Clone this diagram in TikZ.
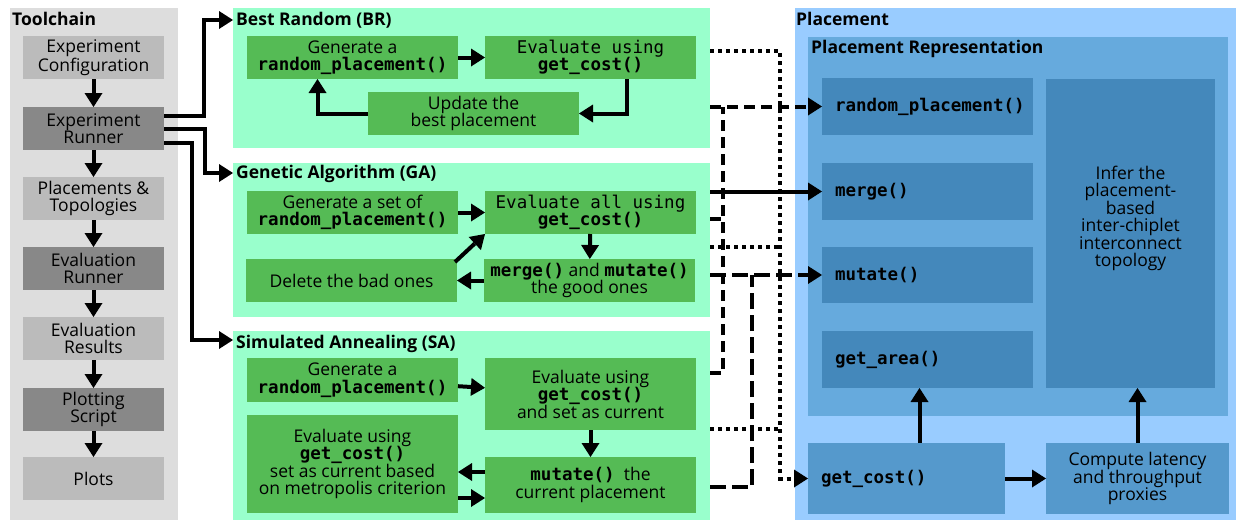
\documentclass[tikz,border=0pt]{standalone}
\usepackage{fontspec}
\setmainfont{Open Sans}
\setmonofont{DejaVu Sans Mono}
\usetikzlibrary{arrows.meta, calc}
\definecolor{toolBg}{HTML}{DDDDDD}
\definecolor{toolLight}{HTML}{BBBBBB}
\definecolor{toolDark}{HTML}{888888}
\definecolor{algBg}{HTML}{99FFCC}
\definecolor{algBox}{HTML}{55BB55}
\definecolor{placeBg}{HTML}{99CCFF}
\definecolor{repBg}{HTML}{66AADD}
\definecolor{repBox}{HTML}{4488BB}
\definecolor{costBox}{HTML}{5599CC}
\newcommand{\flowArrow}{{Triangle[length=14pt, width=18pt, line width=0pt]}}
\newcommand{\codeB}[1]{\texttt{\bfseries #1}}

\begin{document}
\begin{tikzpicture}[x=1pt, y=-1pt, font=\fontsize{17.5}{17.5}\selectfont,
	panel/.style={anchor=north west, inner sep=0pt, outer sep=0pt},
	title/.style={anchor=base west, inner sep=0pt, font=\fontsize{17.5}{17.5}\selectfont\bfseries},
	toolbox/.style={anchor=north west, inner sep=0pt, outer sep=0pt, align=center, minimum width=141pt, minimum height=43pt, fill=toolLight},
	algbox/.style={anchor=north west, inner sep=0pt, outer sep=0pt, align=center, minimum width=211pt, minimum height=43pt, fill=algBox},
	fnbox/.style={anchor=north west, inner xsep=13pt, inner ysep=0pt, outer sep=0pt, text width=185pt, align=left, minimum height=57pt, fill=repBox},
	link/.style={line width=4pt},
	flow/.style={link, -\flowArrow},
	costlink/.style={link, dash pattern=on 4pt off 4pt},
	randlink/.style={link, dash pattern=on 11pt off 6pt},
	mutlink/.style={link, dash pattern=on 16pt off 6pt}]
	\useasboundingbox (0,0) rectangle (1236,522);

	\node[panel, fill=toolBg, minimum width=168pt, minimum height=512pt] (tool) at (10,8) {};
	\node[title] (tooltitle) at (12,25) {Toolchain};
	\node[toolbox] (conf) at (23,36) {Experiment\\Configuration};
	\node[toolbox, fill=toolDark] (runner) at (23,107) {Experiment\\Runner};
	\node[toolbox] (plctop) at (23,177) {Placements \&\\Topologies};
	\node[toolbox, fill=toolDark] (evrun) at (23,247) {Evaluation\\Runner};
	\node[toolbox] (evres) at (23,317) {Evaluation\\Results};
	\node[toolbox, fill=toolDark] (plotscr) at (23,388) {Plotting\\Script};
	\node[toolbox] (plots) at (23,457) {Plots};
	\draw[flow] (conf) -- (runner);
	\draw[flow] (runner) -- (plctop);
	\draw[flow] (plctop) -- (evrun);
	\draw[flow] (evrun) -- (evres);
	\draw[flow] (evres) -- (plotscr);
	\draw[flow] (plotscr) -- (plots);

	\node[panel, fill=algBg, minimum width=477pt, minimum height=140pt] (br) at (233,8) {};
	\node[title] (brtitle) at (236,25) {Best Random (BR)};
	\node[algbox] (brgen) at (247,36) {Generate a\\\codeB{random\_placement()}};
	\node[algbox] (breval) at (485,36) {\ttfamily Evaluate using\\\codeB{get\_cost()}};
	\node[algbox] (brupd) at (368,92) {Update the\\best placement};
	\draw[flow] (brgen) -- (breval);
	\draw[flow] ([xshift=36pt]breval.south) |- (brupd.east);
	\draw[flow] (brupd.west) -| ([xshift=-35pt]brgen.south);

	\node[panel, fill=algBg, minimum width=477pt, minimum height=154pt] (ga) at (233,163) {};
	\node[title] (gatitle) at (236,178) {Genetic Algorithm (GA)};
	\node[algbox] (gagen) at (247,191) {Generate a set of\\\codeB{random\_placement()}};
	\node[algbox] (gaeval) at (485,191) {\ttfamily Evaluate all using\\\codeB{get\_cost()}};
	\node[algbox] (gadel) at (246,259) {Delete the bad ones};
	\node[algbox] (gamm) at (484,259) {\codeB{merge()} and \codeB{mutate()}\\the good ones};
	\draw[flow] (gagen) -- (gaeval);
	\draw[flow] (gaeval) -- (gamm);
	\draw[flow] (gamm) -- (gadel);
	\draw[flow] ([xshift=-2pt, yshift=-3pt]gadel.north east) -- (gaeval.south west);

	\node[panel, fill=algBg, minimum width=477pt, minimum height=189pt] (sa) at (233,331) {};
	\node[title] (satitle) at (236,348) {Simulated Annealing (SA)};
	\node[algbox, minimum height=44pt] (sagen) at (247,358) {Generate a\\\codeB{random\_placement()}};
	\node[algbox, minimum height=72pt] (saeval) at (485,358) {Evaluate using\\\codeB{get\_cost()}\\and set as current};
	\node[algbox, minimum height=98pt] (samet) at (247,415) {Evaluate using\\\codeB{get\_cost()}\\set as current based\\on metropolis criterion};
	\node[algbox, minimum height=56pt] (samut) at (485,457) {\codeB{mutate()}\ \ the\\current placement};
	\draw[flow] (sagen) -- (saeval);
	\draw[flow] (saeval) -- (samut);
	\draw[flow] ([yshift=13pt]samut.west) -- ([yshift=13pt]samut.west -| samet.east);
	\draw[flow] ([yshift=-13pt]samut.west -| samet.east) -- ([yshift=-13pt]samut.west);

	\draw[flow] ([yshift=12.5pt]runner.east) -- ++(40,0) |- ([yshift=-12pt]br.north west);
	\draw[flow] (runner.east) -- ++(41,0) |- ([yshift=-10pt]ga.north west);
	\draw[flow] ([yshift=-14.5pt]runner.east) -- ++(28,0) |- ([yshift=-9pt]sa.north west);

	\node[panel, fill=placeBg, minimum width=441pt, minimum height=512pt] (place) at (795,8) {};
	\node[title] (placetitle) at (796,25) {Placement};
	\node[panel, fill=repBg, minimum width=420pt, minimum height=379pt] (rep) at (808,37) {};
	\node[title] (reptitle) at (811,53) {Placement Representation};
	\node[fnbox] (randpl) at (822,78) {\codeB{random\_placement()}};
	\node[fnbox] (merge) at (822,163) {\codeB{merge()}};
	\node[fnbox, minimum height=56pt] (mutate) at (822,247) {\codeB{mutate()}};
	\node[fnbox] (getarea) at (822,331) {\codeB{get\_area()}};
	\node[panel, fill=repBox, minimum width=169pt, minimum height=309pt] (infer) at (1046,79) {};
	\node[align=center] (infertxt) at ($(infer.center)+(0,-15)$) {Infer the\\placement-\\based\\inter-chiplet\\interconnect\\topology};
	\node[fnbox, fill=costBox, text width=171pt, minimum height=71pt] (getcost) at (808,443) {\codeB{get\_cost()}};
	\node[panel, fill=costBox, align=center, minimum width=183pt, minimum height=71pt] (compute) at (1046,443) {Compute latency\\and throughput\\proxies};
	\draw[flow] ([xshift=13pt]getcost.north) -- ([xshift=13pt]getcost.north |- getarea.south);
	\draw[flow] (compute.north) -- (compute.north |- infer.south);
	\draw[flow] (getcost.east) -- (compute.west);

	\draw[costlink, -\flowArrow] ([yshift=-43pt]br.north east) -- ++(70,0) |- (getcost.west);
	\draw[costlink] ([yshift=-84pt]ga.north east) -- ++(70,0);
	\draw[costlink] ([yshift=-98pt]sa.north east) -- ++(70,0);
	\draw[randlink, -\flowArrow] (br.east |- randpl.west) -- (randpl.west);
	\draw[randlink] ([yshift=-56pt]ga.north east) -- ++(13,0);
	\draw[randlink] ([yshift=-42pt]sa.north east) -| ([xshift=13pt]br.east |- randpl.west);
	\draw[flow] (ga.east |- merge.west) -- (merge.west);
	\draw[mutlink, -\flowArrow] (ga.east |- mutate.west) -- (mutate.west);
	\draw[mutlink] ([yshift=-156pt]sa.north east) -| ([xshift=42pt]ga.east |- mutate.west);
\end{tikzpicture}
\end{document}
